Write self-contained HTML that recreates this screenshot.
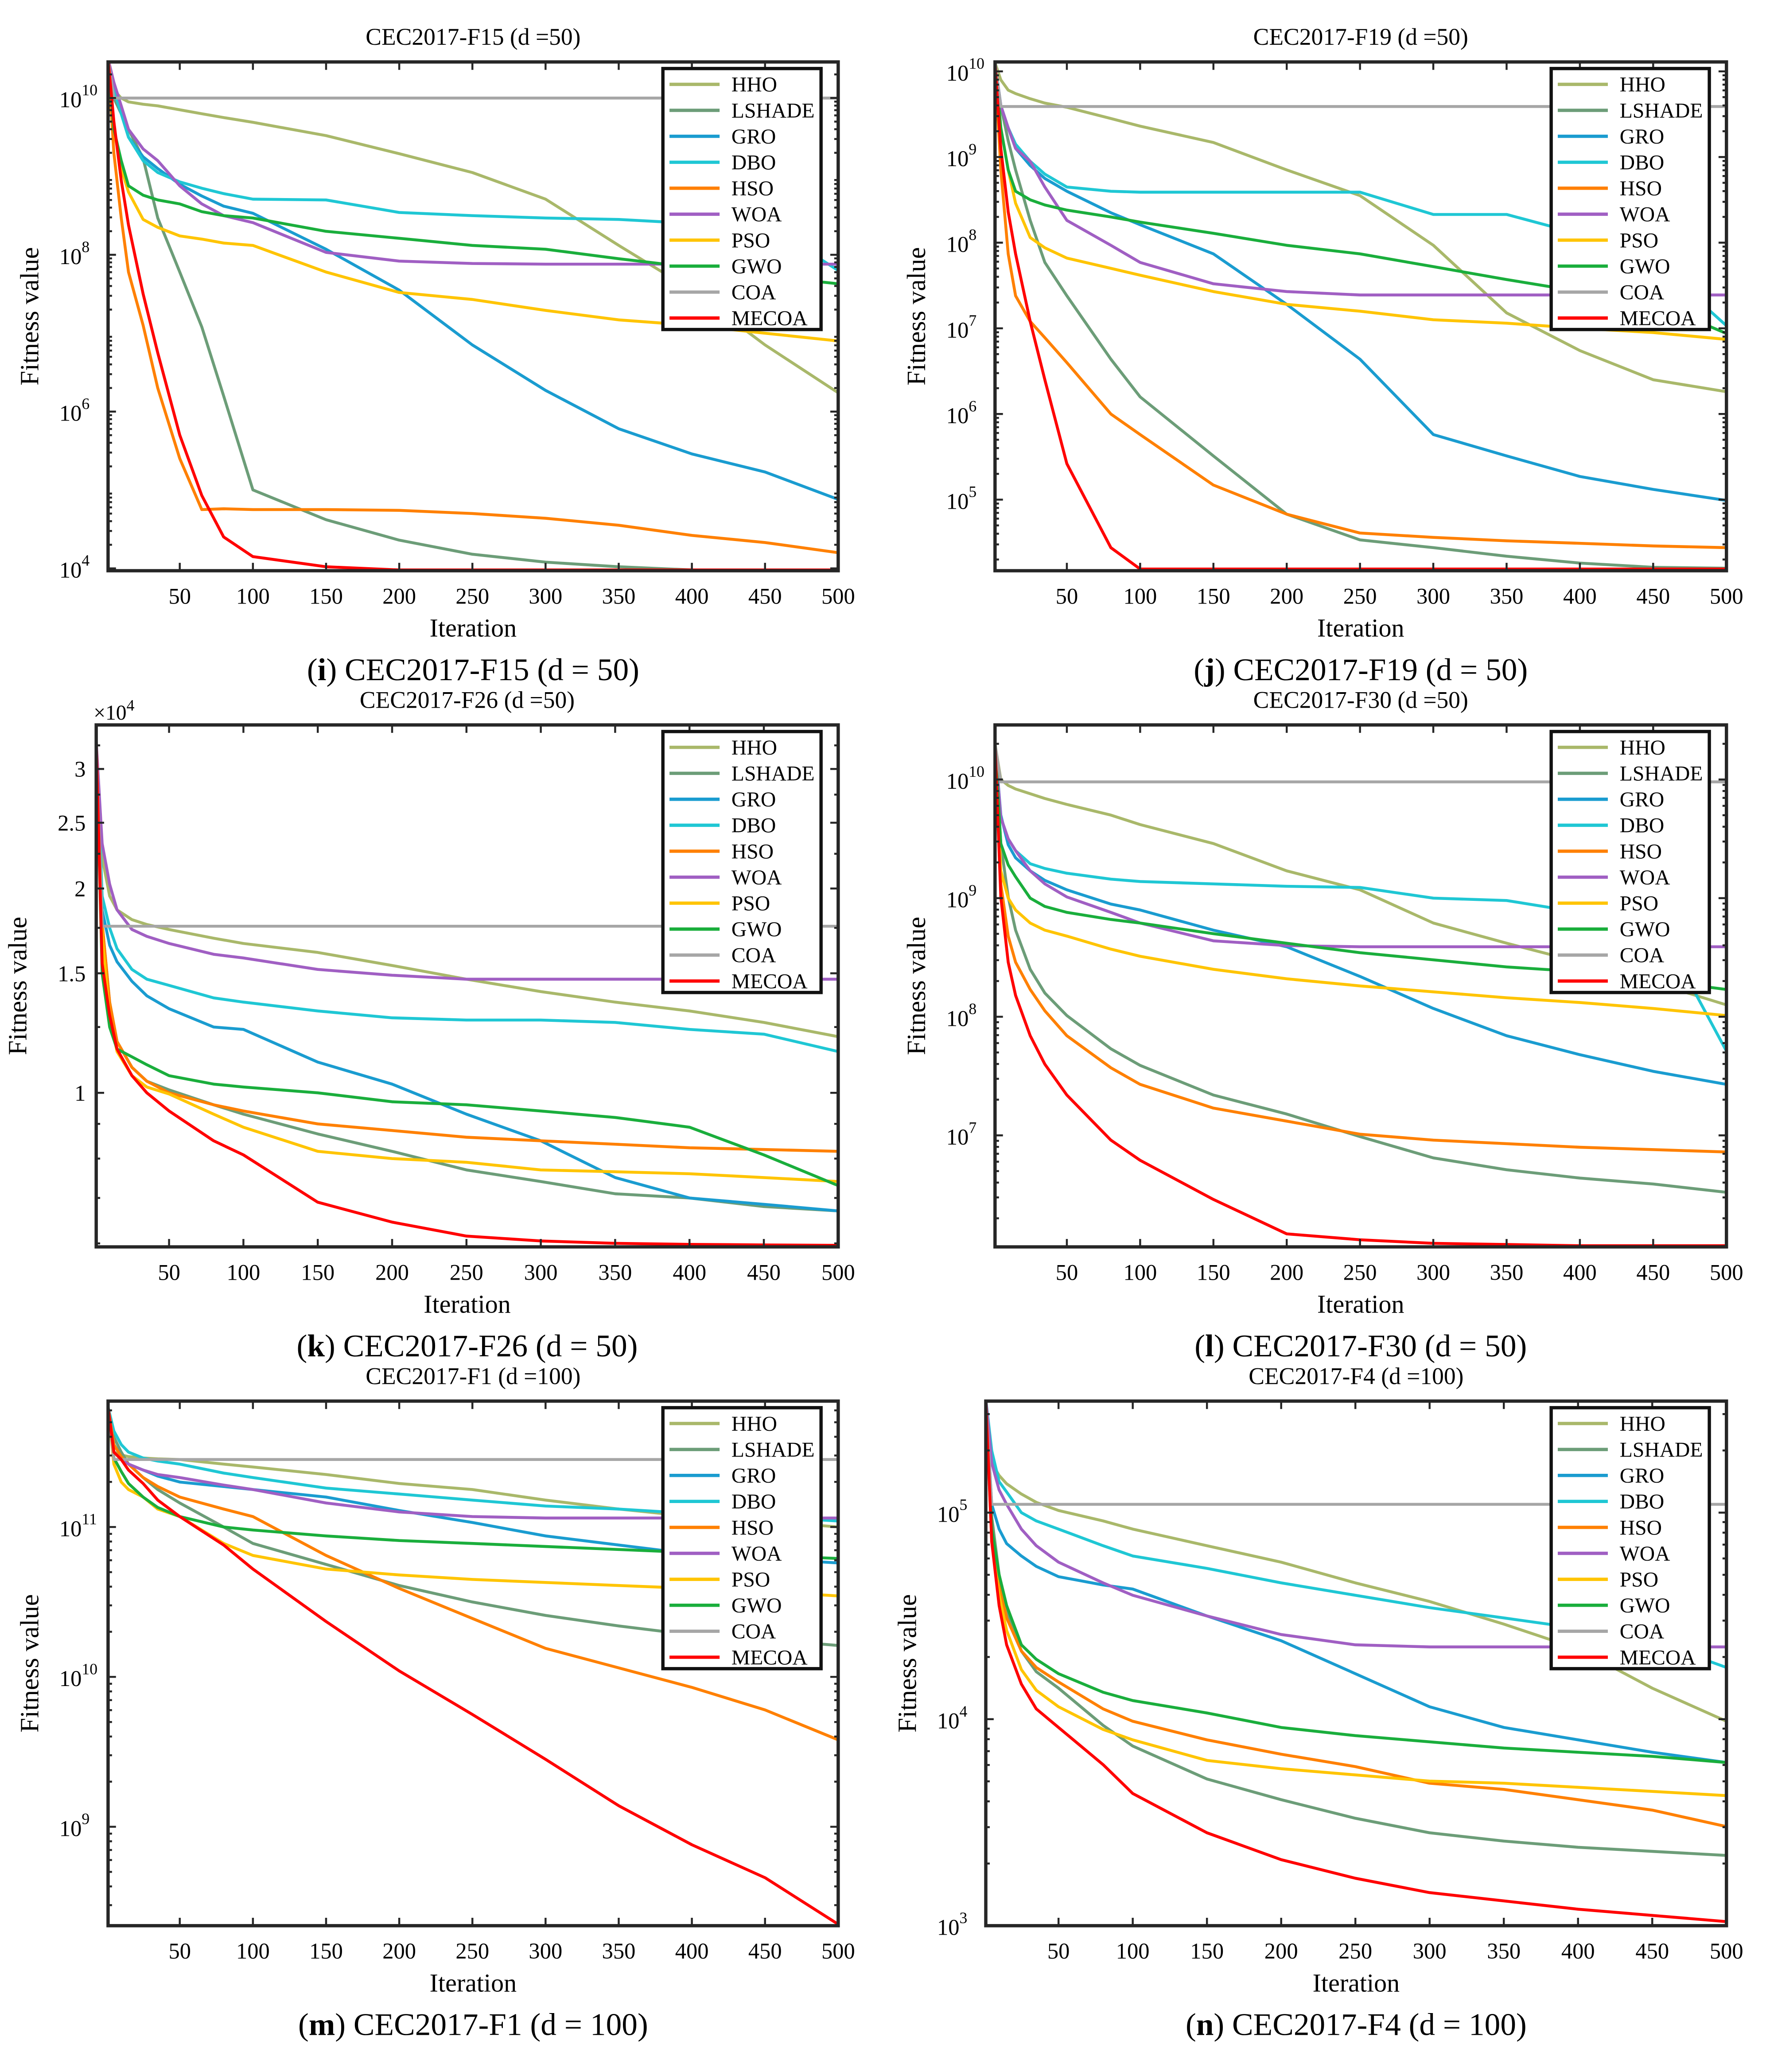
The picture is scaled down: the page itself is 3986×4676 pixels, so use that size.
<!DOCTYPE html>
<html><head><meta charset="utf-8"><style>
html,body{margin:0;padding:0;background:#fff}
svg{display:block}
text{font-family:"Liberation Serif",serif;fill:#000}
</style></head><body>
<svg id="fig" xmlns="http://www.w3.org/2000/svg" width="3986" height="4676" viewBox="0 0 1340 1572" preserveAspectRatio="none"></svg>
<script>
// ---- shared data ----
const names = ["HHO","LSHADE","GRO","DBO","HSO","WOA","PSO","GWO","COA","MECOA"];
const colors = ["#a9b86a","#6c9d78","#1a9cd0","#1fc7d4","#ff8000","#a05fc3","#ffc400","#1aae3c","#a6a6a6","#ff0000"];
const itersI = [1,5,10,15,25,35,50,65,80,100,150,200,250,300,350,400,450,500];
const itersB = [1,5,10,15,25,35,50,80,100,150,200,250,300,350,400,450,500];
const xTicks = [50,100,150,200,250,300,350,400,450,500];

// panel i: log10 fitness
const iHHO=[10.5,10.1,10.0,9.95,9.92,9.9,9.85,9.8,9.75,9.69,9.52,9.29,9.05,8.71,8.12,7.55,6.85,6.24];
const iLSHADE=[10.5,10.0,9.8,9.6,9.23,8.47,7.78,7.08,6.2,5.0,4.62,4.36,4.18,4.08,4.02,3.98,3.96,3.95];
const iGRO=[10.5,10.1,9.8,9.5,9.25,9.1,8.9,8.75,8.62,8.53,8.07,7.55,6.85,6.27,5.78,5.46,5.23,4.88];
const iDBO=[10.5,10.1,9.8,9.5,9.2,9.05,8.93,8.85,8.78,8.71,8.7,8.54,8.5,8.47,8.45,8.4,8.4,7.8];
const iHSO=[10.5,9.3,8.47,7.78,7.1,6.3,5.4,4.75,4.76,4.75,4.75,4.74,4.7,4.64,4.55,4.42,4.33,4.2];
const iWOA=[10.5,10.2,9.9,9.6,9.35,9.2,8.88,8.65,8.5,8.41,8.03,7.92,7.89,7.88,7.88,7.88,7.88,7.88];
const iPSO=[10.5,9.6,9.1,8.8,8.45,8.35,8.24,8.2,8.15,8.12,7.78,7.52,7.43,7.29,7.17,7.1,7.0,6.9];
const iGWO=[10.5,9.6,9.2,8.88,8.76,8.7,8.65,8.55,8.5,8.47,8.3,8.21,8.12,8.07,7.95,7.84,7.73,7.63];
const iCOA=[10.5,10.0,10.0,10.0,10.0,10.0,10.0,10.0,10.0,10.0,10.0,10.0,10.0,10.0,10.0,10.0,10.0,10.0];
const iMECOA=[10.5,9.7,8.95,8.38,7.5,6.75,5.7,4.93,4.4,4.15,4.02,3.98,3.98,3.98,3.98,3.98,3.98,3.98];

// panel j
const jHHO=[10.1,9.9,9.78,9.74,9.68,9.63,9.58,9.45,9.36,9.17,8.85,8.55,7.97,7.18,6.74,6.4,6.26];
const jLSHADE=[10.1,9.6,9.19,8.85,8.26,7.77,7.38,6.64,6.2,5.51,4.83,4.53,4.44,4.34,4.26,4.21,4.2];
const jGRO=[10.1,9.6,9.34,9.1,8.9,8.75,8.6,8.35,8.21,7.87,7.28,6.64,5.76,5.51,5.27,5.12,4.99];
const jDBO=[10.1,9.6,9.34,9.15,8.95,8.8,8.65,8.6,8.59,8.59,8.59,8.59,8.33,8.33,8.1,7.8,7.03];
const jHSO=[10.1,8.85,7.87,7.38,7.08,6.89,6.6,6.0,5.76,5.17,4.83,4.61,4.56,4.52,4.49,4.46,4.44];
const jWOA=[10.1,9.6,9.34,9.1,8.95,8.65,8.26,7.97,7.77,7.52,7.43,7.39,7.39,7.39,7.39,7.39,7.39];
const jPSO=[10.1,9.34,8.85,8.46,8.06,7.94,7.82,7.7,7.62,7.43,7.28,7.2,7.1,7.06,7.0,6.95,6.87];
const jGWO=[10.1,9.34,8.85,8.6,8.5,8.44,8.38,8.3,8.24,8.11,7.97,7.87,7.72,7.57,7.43,7.3,6.94];
const jCOA=[10.1,9.59,9.59,9.59,9.59,9.59,9.59,9.59,9.59,9.59,9.59,9.59,9.59,9.59,9.59,9.59,9.59];
const jMECOA=[10.1,9.1,8.36,7.87,7.08,6.4,5.42,4.44,4.19,4.19,4.19,4.19,4.19,4.19,4.19,4.19,4.19];

// panel k: fitness x 1e4
const kHHO=[3.3,2.22,1.95,1.86,1.8,1.77,1.74,1.69,1.66,1.61,1.54,1.47,1.41,1.36,1.32,1.27,1.21];
const kLSHADE=[3.3,1.78,1.36,1.19,1.09,1.04,1.01,0.96,0.93,0.87,0.82,0.77,0.74,0.71,0.70,0.68,0.67];
const kGRO=[3.3,1.86,1.65,1.56,1.46,1.39,1.33,1.25,1.24,1.11,1.03,0.93,0.85,0.75,0.70,0.685,0.67];
const kDBO=[3.3,1.95,1.75,1.63,1.52,1.47,1.44,1.38,1.36,1.32,1.29,1.28,1.28,1.27,1.24,1.22,1.15];
const kHSO=[3.3,1.78,1.36,1.19,1.09,1.04,1.0,0.96,0.94,0.90,0.88,0.86,0.85,0.84,0.83,0.825,0.82];
const kWOA=[3.3,2.33,2.03,1.86,1.74,1.7,1.66,1.6,1.58,1.52,1.49,1.47,1.47,1.47,1.47,1.47,1.47];
const kPSO=[3.3,1.7,1.3,1.15,1.06,1.02,0.996,0.93,0.89,0.82,0.80,0.79,0.77,0.765,0.76,0.75,0.74];
const kGWO=[3.3,1.5,1.25,1.16,1.13,1.1,1.06,1.03,1.02,1.0,0.97,0.96,0.94,0.92,0.89,0.81,0.73];
const kCOA=[3.3,1.76,1.76,1.76,1.76,1.76,1.76,1.76,1.76,1.76,1.76,1.76,1.76,1.76,1.76,1.76,1.76];
const kMECOA=[3.3,1.55,1.30,1.16,1.06,1.0,0.94,0.85,0.81,0.69,0.645,0.615,0.605,0.60,0.598,0.597,0.596];

// panel l
const lHHO=[10.3,10.0,9.95,9.92,9.88,9.84,9.79,9.7,9.62,9.46,9.23,9.07,8.79,8.62,8.46,8.29,8.1];
const lLSHADE=[10.3,9.46,9.01,8.73,8.4,8.2,8.01,7.73,7.59,7.34,7.18,6.99,6.81,6.71,6.64,6.59,6.52];
const lGRO=[10.3,9.7,9.45,9.34,9.23,9.15,9.07,8.95,8.9,8.73,8.59,8.34,8.07,7.84,7.68,7.54,7.43];
const lDBO=[10.3,9.68,9.5,9.4,9.29,9.25,9.21,9.16,9.14,9.12,9.1,9.09,9.0,8.98,8.88,8.86,7.71];
const lHSO=[10.3,9.12,8.68,8.46,8.23,8.05,7.84,7.57,7.43,7.23,7.12,7.01,6.96,6.93,6.9,6.88,6.86];
const lWOA=[10.3,9.68,9.5,9.4,9.23,9.12,9.01,8.88,8.79,8.64,8.6,8.59,8.59,8.59,8.59,8.59,8.59];
const lPSO=[10.3,9.23,9.0,8.9,8.79,8.73,8.68,8.57,8.51,8.4,8.32,8.26,8.21,8.16,8.12,8.07,8.01];
const lGWO=[10.3,9.46,9.28,9.18,9.0,8.93,8.88,8.82,8.79,8.7,8.62,8.54,8.48,8.42,8.38,8.31,8.23];
const lCOA=[10.3,9.98,9.98,9.98,9.98,9.98,9.98,9.98,9.98,9.98,9.98,9.98,9.98,9.98,9.98,9.98,9.98];
const lMECOA=[10.3,9.01,8.46,8.18,7.84,7.6,7.34,6.96,6.79,6.46,6.17,6.12,6.09,6.08,6.07,6.07,6.07];

// panel m
const mHHO=[11.8,11.5,11.48,11.47,11.46,11.455,11.45,11.42,11.4,11.35,11.29,11.25,11.18,11.12,11.07,11.04,11.0];
const mLSHADE=[11.8,11.6,11.5,11.42,11.33,11.25,11.16,11.0,10.89,10.75,10.61,10.5,10.41,10.34,10.28,10.25,10.21];
const mGRO=[11.8,11.55,11.47,11.42,11.38,11.34,11.3,11.27,11.25,11.2,11.11,11.03,10.94,10.88,10.82,10.79,10.76];
const mDBO=[11.8,11.64,11.55,11.5,11.46,11.44,11.42,11.36,11.33,11.26,11.22,11.18,11.14,11.12,11.09,11.07,11.04];
const mHSO=[11.8,11.55,11.47,11.42,11.33,11.27,11.2,11.12,11.07,10.81,10.59,10.39,10.19,10.06,9.93,9.78,9.58];
const mWOA=[11.8,11.5,11.45,11.42,11.38,11.35,11.33,11.28,11.25,11.16,11.1,11.07,11.06,11.06,11.06,11.06,11.06];
const mPSO=[11.8,11.42,11.3,11.25,11.2,11.12,11.07,10.89,10.81,10.72,10.68,10.65,10.63,10.61,10.59,10.57,10.54];
const mGWO=[11.8,11.46,11.37,11.29,11.2,11.13,11.07,11.0,10.98,10.94,10.91,10.89,10.87,10.85,10.83,10.81,10.79];
const mCOA=[11.8,11.45,11.45,11.45,11.45,11.45,11.45,11.45,11.45,11.45,11.45,11.45,11.45,11.45,11.45,11.45,11.45];
const mMECOA=[11.8,11.5,11.45,11.38,11.29,11.18,11.07,10.88,10.72,10.37,10.04,9.75,9.45,9.14,8.88,8.66,8.35];

// panel n
const nHHO=[5.55,5.24,5.18,5.14,5.09,5.05,5.01,4.96,4.92,4.84,4.76,4.66,4.57,4.46,4.34,4.15,3.99];
const nLSHADE=[5.55,4.98,4.7,4.52,4.33,4.23,4.15,3.97,3.87,3.71,3.61,3.52,3.45,3.41,3.38,3.36,3.34];
const nGRO=[5.55,5.04,4.92,4.85,4.79,4.74,4.69,4.65,4.63,4.5,4.38,4.22,4.06,3.96,3.9,3.84,3.79];
const nDBO=[5.55,5.3,5.15,5.1,5.0,4.96,4.92,4.84,4.79,4.73,4.66,4.6,4.54,4.49,4.44,4.38,4.25];
const nHSO=[5.55,4.92,4.66,4.49,4.33,4.25,4.18,4.05,3.99,3.9,3.83,3.77,3.69,3.66,3.61,3.56,3.48];
const nWOA=[5.55,5.24,5.11,5.04,4.92,4.84,4.76,4.66,4.6,4.5,4.41,4.36,4.35,4.35,4.35,4.35,4.35];
const nPSO=[5.55,4.86,4.6,4.43,4.24,4.14,4.06,3.95,3.9,3.8,3.76,3.73,3.7,3.69,3.67,3.65,3.63];
const nGWO=[5.55,4.92,4.7,4.55,4.36,4.29,4.22,4.13,4.09,4.03,3.96,3.92,3.89,3.86,3.84,3.82,3.79];
const nCOA=[5.55,5.04,5.04,5.04,5.04,5.04,5.04,5.04,5.04,5.04,5.04,5.04,5.04,5.04,5.04,5.04,5.04];
const nMECOA=[5.55,4.86,4.55,4.36,4.17,4.05,3.96,3.78,3.64,3.45,3.32,3.23,3.16,3.12,3.08,3.05,3.02];

const NS="http://www.w3.org/2000/svg";
const svg=document.getElementById('fig');
function mk(tag,attrs,parent){const e=document.createElementNS(NS,tag);for(const k in attrs)e.setAttribute(k,attrs[k]);(parent||svg).appendChild(e);return e;}

const panels=[
 {id:'i',L:82,R:636,T:47,B:433,ymin:3.97,ymax:10.46,iters:itersI,series:[iHHO,iLSHADE,iGRO,iDBO,iHSO,iWOA,iPSO,iGWO,iCOA,iMECOA],dec:[4,6,8,10],title:'CEC2017-F15 (d =50)',cap:['i','CEC2017-F15 (d = 50)']},
 {id:'j',L:755,R:1310,T:47,B:433,ymin:4.17,ymax:10.11,iters:itersB,series:[jHHO,jLSHADE,jGRO,jDBO,jHSO,jWOA,jPSO,jGWO,jCOA,jMECOA],dec:[5,6,7,8,9,10],title:'CEC2017-F19 (d =50)',cap:['j','CEC2017-F19 (d = 50)']},
 {id:'k',L:73,R:636,T:550,B:946,ymin:-0.227,ymax:0.542,iters:itersB,series:[kHHO,kLSHADE,kGRO,kDBO,kHSO,kWOA,kPSO,kGWO,kCOA,kMECOA],lin:true,title:'CEC2017-F26 (d =50)',cap:['k','CEC2017-F26 (d = 50)']},
 {id:'l',L:755,R:1310,T:550,B:946,ymin:6.06,ymax:10.46,iters:itersB,series:[lHHO,lLSHADE,lGRO,lDBO,lHSO,lWOA,lPSO,lGWO,lCOA,lMECOA],dec:[7,8,9,10],title:'CEC2017-F30 (d =50)',cap:['l','CEC2017-F30 (d = 50)']},
 {id:'m',L:82,R:636,T:1063,B:1461,ymin:8.34,ymax:11.84,iters:itersB,series:[mHHO,mLSHADE,mGRO,mDBO,mHSO,mWOA,mPSO,mGWO,mCOA,mMECOA],dec:[9,10,11],title:'CEC2017-F1 (d =100)',cap:['m','CEC2017-F1 (d = 100)']},
 {id:'n',L:748,R:1310,T:1063,B:1461,ymin:3.0,ymax:5.54,iters:itersB,series:[nHHO,nLSHADE,nGRO,nDBO,nHSO,nWOA,nPSO,nGWO,nCOA,nMECOA],dec:[3,4,5],title:'CEC2017-F4 (d =100)',cap:['n','CEC2017-F4 (d = 100)']}
];
const kLabels=[1,1.5,2,2.5,3];
const kMinor=[0.6,0.7,0.8,0.9,1.25,1.75,2.25,2.75,3.25];

panels.forEach(p=>{
  const g=mk('g',{});
  
  
  const W=p.R-p.L,H=p.B-p.T;
  const xs=it=>p.L+(it-1)/499*W;
  const ys=v=>p.B-(v-p.ymin)/(p.ymax-p.ymin)*H;
  const tv=v=>p.lin?Math.log10(v):v;
  const cid='clip-'+p.id;
  const cp=mk('clipPath',{id:cid},g);mk('rect',{x:p.L,y:p.T-1,width:W,height:H+1},cp);
  const sg=mk('g',{'clip-path':'url(#'+cid+')'},g);
  p.series.forEach((arr,si)=>{
    const pts=arr.map((v,i)=>xs(p.iters[i]).toFixed(1)+','+ys(tv(v)).toFixed(1)).join(' ');
    const pl=mk('polyline',{points:pts,fill:'none',stroke:colors[si],'stroke-width':2.2,'stroke-linejoin':'round'},sg);
    
    
  });
  xTicks.forEach(t=>{
    const x=xs(t);
    mk('line',{x1:x,x2:x,y1:p.B,y2:p.B-6,stroke:'#262626','stroke-width':1.5},g);
    mk('line',{x1:x,x2:x,y1:p.T,y2:p.T+6,stroke:'#262626','stroke-width':1.5},g);
    const tx=mk('text',{x:x,y:p.B+25,'text-anchor':'middle','font-size':17},g);tx.textContent=t;
    
    
  });
  const yt=(v,len)=>{const y=ys(v);if(y<p.T||y>p.B)return;
    mk('line',{x1:p.L,x2:p.L+len,y1:y,y2:y,stroke:'#262626','stroke-width':1.5},g);
    mk('line',{x1:p.R,x2:p.R-len,y1:y,y2:y,stroke:'#262626','stroke-width':1.5},g);};
  if(p.lin){
    kLabels.forEach(v=>{const lv=Math.log10(v);yt(lv,6);
      const tx=mk('text',{x:p.L-8,y:ys(lv)+6,'text-anchor':'end','font-size':17},g);tx.textContent=v;
      
      });
    kMinor.forEach(v=>yt(Math.log10(v),3));
    const ex=mk('text',{x:p.L-2,y:p.T-4,'font-size':16},g);
    
    
    ex.innerHTML='×10<tspan dy="-7" font-size="12">4</tspan>';
  } else {
    for(let d=Math.floor(p.ymin)-1;d<=Math.ceil(p.ymax);d++){
      for(let m=2;m<=9;m++)yt(d+Math.log10(m),3);
    }
    p.dec.forEach(d=>{yt(d,6);
      const tx=mk('text',{x:p.L-20,y:ys(d)+7,'text-anchor':'end','font-size':17},g);
      
      
      tx.textContent='10';
      const sp=mk('text',{x:p.L-20,y:ys(d)-2,'font-size':12},g);sp.textContent=d;});
  }
  const fr=mk('rect',{x:p.L,y:p.T,width:W,height:H,fill:'none',stroke:'#262626','stroke-width':2.5},g);
  
  
  const cx=(p.L+p.R)/2;
  const ti=mk('text',{x:cx,y:p.T-13,'text-anchor':'middle','font-size':18},g);ti.textContent=p.title;
  
  
  const xl=mk('text',{x:cx,y:p.B+50,'text-anchor':'middle','font-size':19.5},g);xl.textContent='Iteration';
  
  
  const ylx=p.L-53,yly=(p.T+p.B)/2;
  const yl=mk('text',{x:ylx,y:yly,'text-anchor':'middle','font-size':20,transform:'rotate(-90 '+ylx+' '+yly+')'},g);yl.textContent='Fitness value';
  
  
  const cap=mk('text',{x:cx,y:p.B+83,'text-anchor':'middle','font-size':24},g);
  
  
  cap.innerHTML='(<tspan font-weight="bold">'+p.cap[0]+'</tspan>) '+p.cap[1];
  const lx=p.R-133,ly=p.T+5;
  const lg=mk('g',{},g);
  
  
  mk('rect',{x:lx,y:ly,width:120,height:198,fill:'#fff',stroke:'#111','stroke-width':2.5},lg);
  names.forEach((n,i)=>{
    const y=ly+12+i*19.7;
    const e=mk('g',{},lg);
    
    
    mk('line',{x1:lx+5,x2:lx+43,y1:y,y2:y,stroke:colors[i],'stroke-width':2.5},e);
    const t=mk('text',{x:lx+52,y:y+5.5,'font-size':16},e);t.textContent=n;
  });
});
</script>
</body></html>
